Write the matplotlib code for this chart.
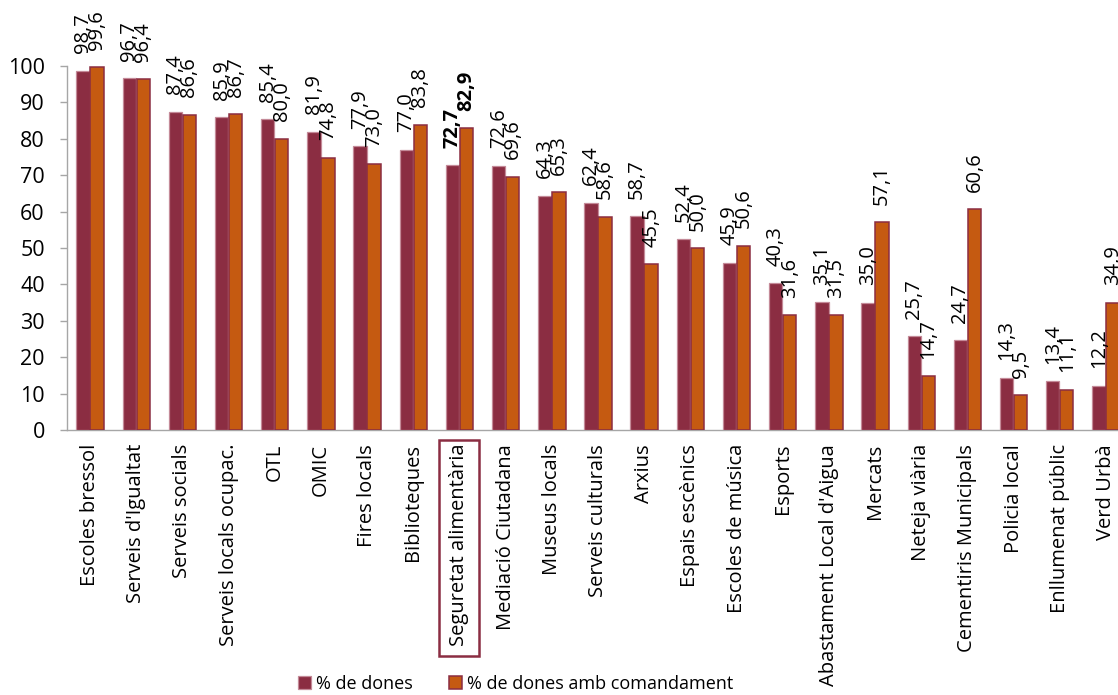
import matplotlib
matplotlib.use("Agg")
import matplotlib.pyplot as plt
import numpy as np
from matplotlib.patches import Rectangle

plt.rcParams['font.family'] = ['Open Sans', 'DejaVu Sans']

categories = ["Escoles bressol", "Serveis d'Igualtat", "Serveis socials",
              "Serveis locals ocupac.", "OTL", "OMIC", "Fires locals",
              "Biblioteques", "Seguretat alimentària", "Mediació Ciutadana",
              "Museus locals", "Serveis culturals", "Arxius", "Espais escènics",
              "Escoles de música", "Esports", "Abastament Local d'Aigua",
              "Mercats", "Neteja viària", "Cementiris Municipals",
              "Policia local", "Enllumenat públic", "Verd Urbà"]
dones = [98.7, 96.7, 87.4, 85.9, 85.4, 81.9, 77.9, 77.0, 72.7, 72.6, 64.3,
         62.4, 58.7, 52.4, 45.9, 40.3, 35.1, 35.0, 25.7, 24.7, 14.3, 13.4, 12.2]
comandament = [99.6, 96.4, 86.6, 86.7, 80.0, 74.8, 73.0, 83.8, 82.9, 69.6,
               65.3, 58.6, 45.5, 50.0, 50.6, 31.6, 31.5, 57.1, 14.7, 60.6,
               9.5, 11.1, 34.9]
highlight = "Seguretat alimentària"
series_names = ["% de dones", "% de dones amb comandament"]

c_dones = "#8B2D42"
c_com = "#C55A11"

W, H = 1118, 695
fig = plt.figure(figsize=(W / 100, H / 100), dpi=100)
ax = fig.add_axes([67 / W, 1 - 430 / H, 1062 / W, 364 / H])

x = np.arange(len(categories))
bw = 0.29
off = 0.152
b1 = ax.bar(x - off, dones, bw, color=c_dones, edgecolor="#C48A98", linewidth=0.9,
            label=series_names[0], zorder=3)
b2 = ax.bar(x + off, comandament, bw, color=c_com, edgecolor=c_dones, linewidth=1.1,
            label=series_names[1], zorder=3)

ax.set_xlim(-0.5, len(categories) - 0.5)
ax.set_ylim(0, 100)
ax.set_yticks(np.arange(0, 101, 10))
ax.tick_params(axis='y', labelsize=15.5, length=5, color="#A6A6A6", width=1, pad=11)
ax.set_xticks(x)
ax.set_xticklabels(categories, rotation=90, fontsize=14.5)
ax.tick_params(axis='x', length=0, pad=10)

for s in ["top", "right"]:
    ax.spines[s].set_visible(False)
for s in ["left", "bottom"]:
    ax.spines[s].set_color("#A6A6A6")
    ax.spines[s].set_linewidth(1)

label_gap = 4.8
for i, cat in enumerate(categories):
    bold = "bold" if cat == highlight else "normal"
    for xv, v in ((x[i] - off, dones[i]), (x[i] + off, comandament[i])):
        ax.text(xv, v + label_gap, f"{v:.1f}".replace(".", ","), rotation=90,
                ha="center", va="bottom", fontsize=14.5, fontweight=bold,
                clip_on=False)

# highlight box around category label
fig.canvas.draw()
for lab in ax.get_xticklabels():
    if lab.get_text() == highlight:
        bb = lab.get_window_extent()
        x0 = bb.x0 - 10
        y0 = bb.y0 - 10
        rect = Rectangle((x0 / W, y0 / H), (bb.width + 20) / W, (bb.height + 14) / H,
                         transform=fig.transFigure, fill=False,
                         edgecolor=c_dones, linewidth=1.8)
        fig.add_artist(rect)

leg = fig.legend(handles=[b1, b2], labels=series_names, loc="center",
                 bbox_to_anchor=(516 / W, 1 - 684 / H), ncol=2, frameon=False,
                 fontsize=13, handlelength=0.7, handleheight=0.7,
                 handletextpad=0.3, columnspacing=2.0, borderpad=0)

fig.savefig("out.png", dpi=100)
